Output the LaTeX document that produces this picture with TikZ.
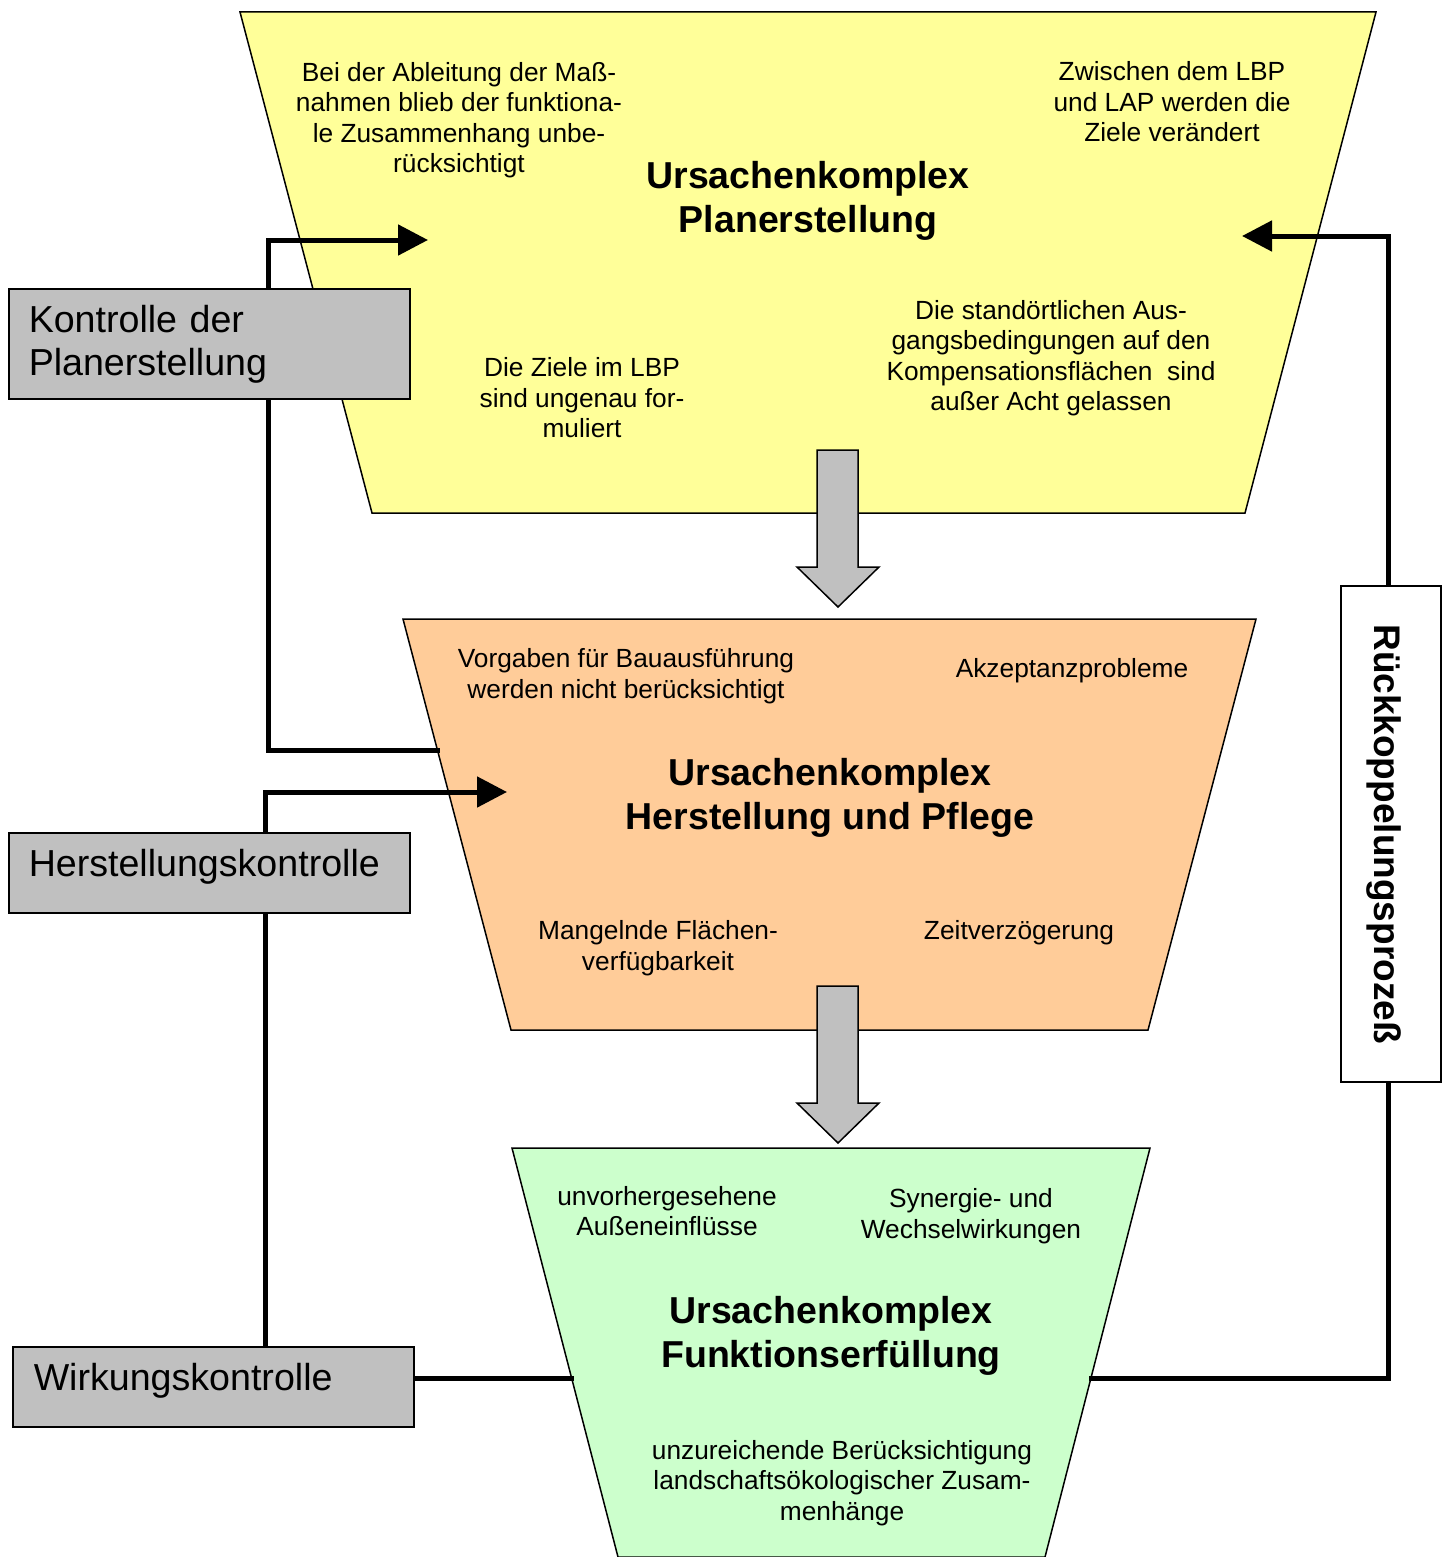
\documentclass[tikz,border=0pt]{standalone}
\usepackage{fontspec}
\setmainfont{Liberation Sans}
\usetikzlibrary{arrows.meta,calc}
\definecolor{yel}{HTML}{FFFF99}
\definecolor{ora}{HTML}{FFCC99}
\definecolor{grn}{HTML}{CCFFCC}
\definecolor{gry}{HTML}{C0C0C0}
\begin{document}
\begin{tikzpicture}[x=1pt,y=-1pt,
  trap/.style={draw=black, line width=1.5pt, line join=miter},
  conn/.style={line width=5pt, line join=miter, line cap=rect},
  tipped/.style={line width=5pt, line join=miter, -{Triangle[length=30pt,width=30pt]}},
  blockarrow/.style={draw=black, fill=gry, line width=1.5pt, line join=miter},
  gbox/.style={draw=black, line width=1.5pt, fill=gry, anchor=north west, inner ysep=0pt,
    font=\fontsize{37.6}{43}\selectfont, align=left},
  txt/.style={align=center, font=\fontsize{26.3}{30.5}\selectfont, inner sep=0pt},
  ttl/.style={align=center, font=\bfseries\fontsize{37.5}{44}\selectfont, inner sep=0pt}
]
\useasboundingbox (0,0) rectangle (1450,1557);

% trapezoids
\filldraw[trap, fill=yel] (240,12) -- (1376,12) -- (1245,513) -- (372,513) -- cycle;
\filldraw[trap, fill=ora] (403,619) -- (1256,619) -- (1148,1030) -- (511,1030) -- cycle;
\filldraw[trap, fill=grn] (512,1148) -- (1150,1148) -- (1045,1557) -- (618,1557) -- cycle;

% block arrows
\filldraw[blockarrow] (817,450) -- (858,450) -- (858,567) -- (879,567) -- (838,607) -- (797,567) -- (817,567) -- cycle;
\filldraw[blockarrow] (817,986) -- (858,986) -- (858,1103) -- (879,1103) -- (838,1143) -- (797,1103) -- (817,1103) -- cycle;

% texts yellow
\node[txt] (y1) at (459,120) {Bei der Ableitung der Maß-\\nahmen blieb der funktiona-\\le Zusammenhang unbe-\\rücksichtigt};
\node[txt] (y2) at (1172,102) {Zwischen dem LBP\\und LAP werden die\\Ziele verändert};
\node[ttl] (yt) at (808,201) {Ursachenkomplex\\Planerstellung};
\node[txt] (y3) at (582,398) {Die Ziele im LBP\\sind ungenau for-\\muliert};
\node[txt] (y4) at (1051,358) {Die standörtlichen Aus-\\gangsbedingungen auf den\\Kompensationsflächen~ sind\\außer Acht gelassen};

% texts orange
\node[txt] (o1) at (626,676) {Vorgaben für Bauausführung\\werden nicht berücksichtigt};
\node[txt] (o2) at (1072,671) {Akzeptanzprobleme};
\node[ttl] (ot) at (830,798) {Ursachenkomplex\\Herstellung und Pflege};
\node[txt] (o3) at (658,948) {Mangelnde Flächen-\\verfügbarkeit};
\node[txt] (o4) at (1019,933) {Zeitverzögerung};

% texts green
\node[txt] (g1) at (667,1211) {unvorhergesehene\\Außeneinflüsse};
\node[txt] (g2) at (971,1216) {Synergie- und\\Wechselwirkungen};
\node[ttl] (gt) at (831,1336) {Ursachenkomplex\\Funktionserfüllung};
\node[txt] (g3) at (842,1483) {unzureichende Berücksichtigung\\landschaftsökologischer Zusam-\\menhänge};

% coordinates for connectors
\coordinate (k1) at (268,240);
\coordinate (aY) at (428,240);
\coordinate (eO) at (437,750);
\coordinate (h1) at (265,792);
\coordinate (aO) at (507,792);
\coordinate (gL) at (571,1378);
\coordinate (gR) at (1091,1378);
\coordinate (r1) at (1388,1378);
\coordinate (r2) at (1388,236);
\coordinate (aY2) at (1242,236);

% connectors (drawn below boxes)
\draw[tipped] (268,288) -- (k1) -- (aY);
\draw[conn] (268,398) |- (eO);
\draw[tipped] (265,832) -- (h1) -- (aO);
\draw[conn] (265,912) -- (265,1346);
\draw[conn] (413,1378) -- (gL);
\draw[conn] (gR) -- (r1) -- (1388,1082);
\draw[tipped] (1388,586) -- (r2) -- (aY2);

% boxes
\node[gbox, inner xsep=20pt, text width=361pt, text height=43.4pt, text depth=66.6pt] (kp) at (8,288) {Kontrolle der\\Planerstellung};
\node[gbox, inner xsep=20pt, text width=361pt, text height=43.4pt, text depth=36.6pt] (hk) at (8,832) {Herstellungskontrolle};
\node[gbox, inner xsep=21pt, text width=359pt, text height=43.4pt, text depth=36.6pt] (wk) at (12,1346) {Wirkungskontrolle};
\node[draw=black, line width=1.5pt, fill=white, rotate=-90, minimum width=496pt,
  inner sep=0pt, text height=66.6pt, text depth=33.4pt,
  font=\bfseries\fontsize{37}{43}\selectfont] (rk) at (1391,834) {Rückkoppelungsprozeß};
\end{tikzpicture}
\end{document}
